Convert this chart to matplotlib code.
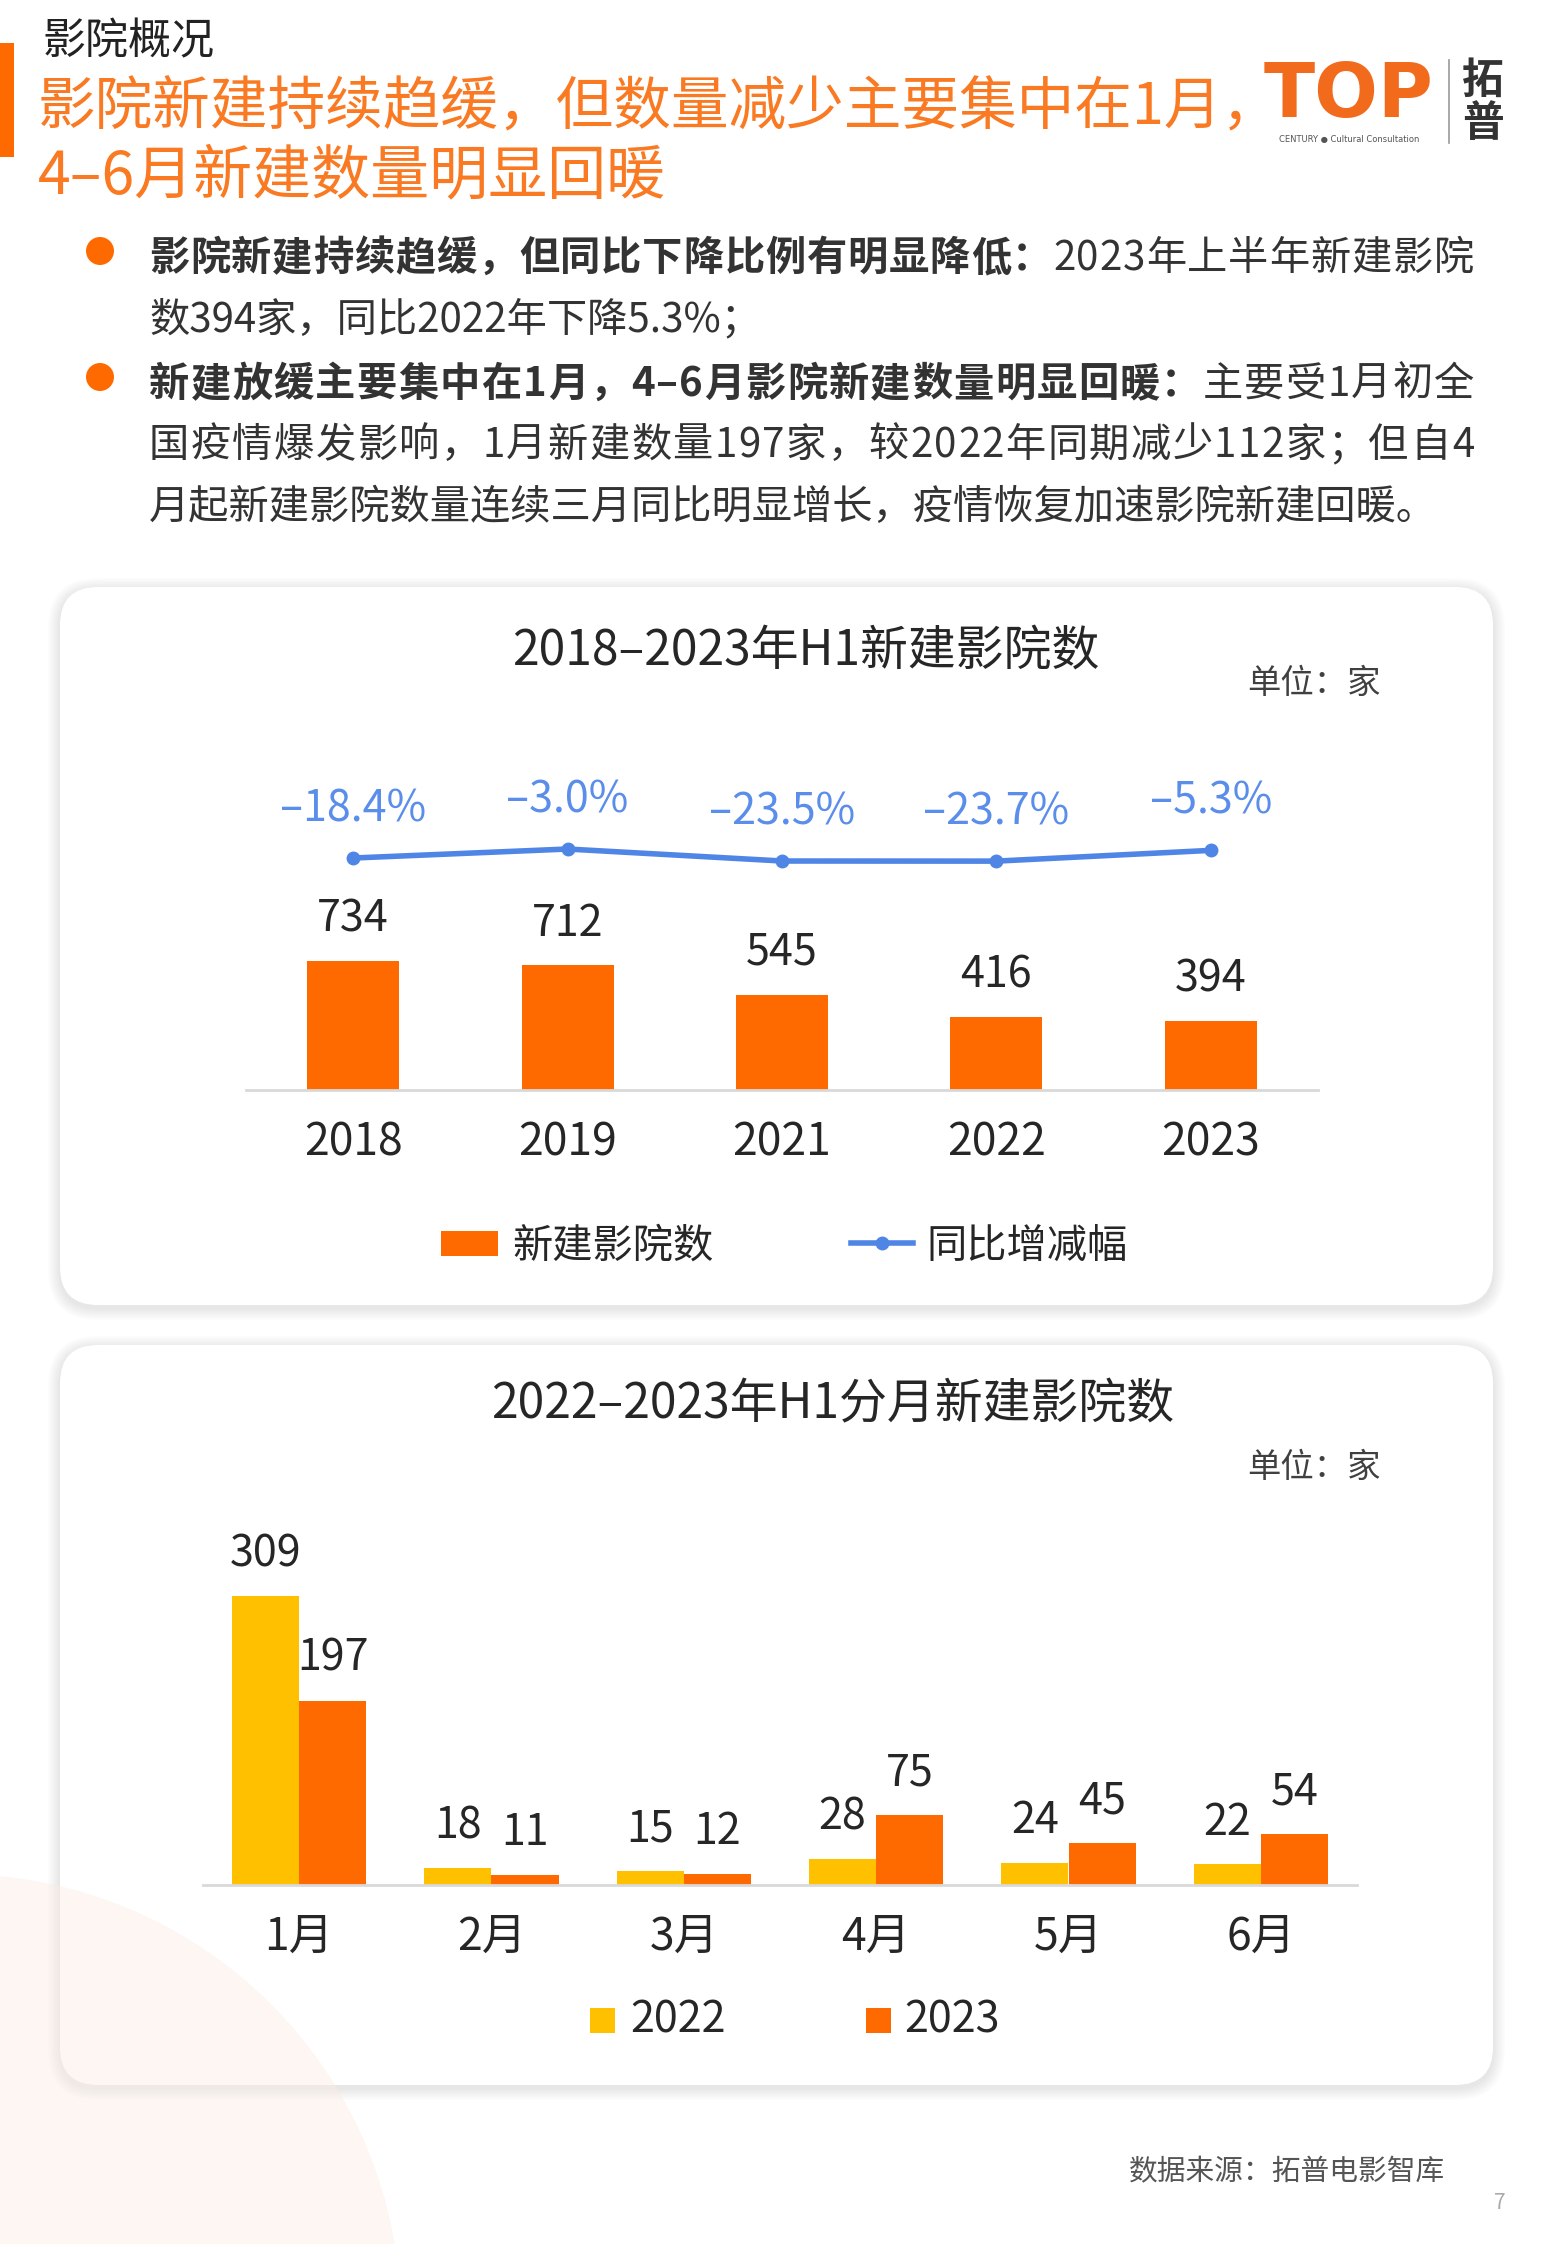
import matplotlib
matplotlib.use("Agg")
import matplotlib.pyplot as plt
from matplotlib.patches import FancyBboxPatch, Rectangle, Circle
from matplotlib.lines import Line2D

plt.rcParams['font.family'] = ['Noto Sans CJK SC', 'DejaVu Sans']

# data
years = ["2018", "2019", "2021", "2022", "2023"]
new_cinemas = [734, 712, 545, 416, 394]
yoy_pct = [-18.4, -3.0, -23.5, -23.7, -5.3]

months = ["1月", "2月", "3月", "4月", "5月", "6月"]
monthly_2022 = [309, 18, 15, 28, 24, 22]
monthly_2023 = [197, 11, 12, 75, 45, 54]

ORANGE = "#FF6A00"
TITLE_ORANGE = "#F97A22"
YELLOW = "#FFC000"
BLUE = "#4F86E6"
BLUE_TXT = "#5B8EEA"
DARK = "#262626"
NUM_FS = 31

W, H = 1554, 2244
fig = plt.figure(figsize=(W / 100, H / 100), dpi=100)
fig.patch.set_facecolor("white")

# background axes in pixel coordinates (y from top)
bg = fig.add_axes([0, 0, 1, 1], zorder=0)
bg.set_xlim(0, W)
bg.set_ylim(H, 0)
bg.axis("off")


def card(x0, y0, x1, y1):
    for i in range(8, 0, -1):
        bg.add_patch(FancyBboxPatch((x0 - i * 1.5, y0 - i * 1.5 + 3), x1 - x0 + i * 3, y1 - y0 + i * 3,
                                    boxstyle="round,pad=0,rounding_size=%d" % (38 + i * 1.5),
                                    fc="#000000", ec="none", alpha=0.012))
    bg.add_patch(FancyBboxPatch((x0, y0), x1 - x0, y1 - y0,
                                boxstyle="round,pad=0,rounding_size=38",
                                fc="white", ec="none"))


card(60, 587, 1493, 1305)
card(60, 1345, 1493, 2085)
bg.add_patch(Circle((-43, 2318), 444, fc="#FBEDE4", ec="none", alpha=0.45))

# header
bg.add_patch(Rectangle((0, 43), 14, 114, fc=ORANGE, ec="none"))
bg.text(43, 42, "影院概况", fontsize=31, color="#222222", va="center", ha="left")
bg.text(38, 108, "影院新建持续趋缓，但数量减少主要集中在1月，", fontsize=41.5, color=TITLE_ORANGE,
        va="center", ha="left")
bg.text(38, 177, "4–6月新建数量明显回暖", fontsize=42.5, color=TITLE_ORANGE, va="center", ha="left")

# logo
bg.text(1349, 96, "TOP", fontsize=54, fontweight="heavy", color="#F26B1D", ha="center", va="center",
        family="DejaVu Sans")
bg.text(1349, 139, "CENTURY ● Cultural Consultation", fontsize=6, color="#555555", ha="center",
        va="center", family="DejaVu Sans")
bg.plot([1449, 1449], [60, 143], color="#999999", lw=1.2)
bg.text(1483, 81, "拓", fontsize=30, fontweight="bold", color="#333333", ha="center", va="center")
bg.text(1483, 124, "普", fontsize=30, fontweight="bold", color="#333333", ha="center", va="center")

# bullets
bullets = [
    [[("影院新建持续趋缓，但同比下降比例有明显降低：", "bold"), ("2023年上半年新建影院", "normal")],
     [("数394家，同比2022年下降5.3%；", "normal")]],
    [[("新建放缓主要集中在1月，4–6月影院新建数量明显回暖：", "bold"), ("主要受1月初全", "normal")],
     [("国疫情爆发影响，1月新建数量197家，较2022年同期减少112家；但自4", "normal")],
     [("月起新建影院数量连续三月同比明显增长，疫情恢复加速影院新建回暖。", "normal")]],
]
base_y = [[270, 331], [396, 457, 519]]
dot_y = [251, 377]
renderer = fig.canvas.get_renderer()
inv = bg.transData.inverted()
X0, X1 = 149, 1474


def px_width(t):
    ext = t.get_window_extent(renderer)
    return inv.transform((ext.x1, 0))[0] - inv.transform((ext.x0, 0))[0]


for b, lines in enumerate(bullets):
    bg.add_patch(Circle((100, dot_y[b]), 14, fc=ORANGE, ec="none"))
    for li, segs in enumerate(lines):
        y = base_y[b][li]
        if li == len(lines) - 1:
            # last line of a paragraph: natural width
            x = X0
            for txt, wt in segs:
                t = bg.text(x, y, txt, fontsize=29, fontweight=wt, color="#333333", va="baseline",
                            ha="left")
                x += px_width(t)
            continue
        # justified line: spread characters over the full width
        chars = [(c, wt) for txt, wt in segs for c in txt]
        objs = [bg.text(0, y, c, fontsize=29, fontweight=wt, color="#333333", va="baseline",
                        ha="left") for c, wt in chars]
        widths = [px_width(o) for o in objs]
        gap = (X1 - X0 - sum(widths)) / (len(objs) - 1)
        x = X0
        for o, w in zip(objs, widths):
            o.set_x(x)
            x += w + gap

# chart 1
def frac(left, top, right, bottom):
    return [left / W, (H - bottom) / H, (right - left) / W, (bottom - top) / H]


bg.text(806, 651, "2018–2023年H1新建影院数", fontsize=34.5, color=DARK, ha="center", va="center")
bg.text(1381, 683, "单位：家", fontsize=24, color="#404040", ha="right", va="center")

ax1 = fig.add_axes(frac(246, 780, 1318, 1090), zorder=2)
ax1.patch.set_alpha(0)
xs = list(range(len(years)))
ax1.bar(xs, new_cinemas, width=0.43, color=ORANGE)
for x, v in zip(xs, new_cinemas):
    ax1.annotate(str(v), (x, v), xytext=(0, 30), textcoords="offset points", ha="center",
                 va="center", fontsize=NUM_FS, color=DARK)
ax1.set_xlim(-0.5, len(years) - 0.5)
ax1.set_ylim(0, 1770)
ax1.set_xticks(xs)
ax1.set_xticklabels(years, fontsize=32, color=DARK)
ax1.tick_params(axis="x", length=0, pad=21)
ax1.set_yticks([])
for s in ["top", "left", "right"]:
    ax1.spines[s].set_visible(False)
ax1.spines["bottom"].set_color("#D9D9D9")
ax1.spines["bottom"].set_linewidth(2)

ax1b = ax1.twinx()
ax1b.plot(xs, yoy_pct, color=BLUE, lw=4, marker="o", markersize=9, clip_on=False)
for x, v in zip(xs, yoy_pct):
    ax1b.annotate(("%.1f%%" % v).replace("-", "–"), (x, v), xytext=(0, 35), textcoords="offset points",
                  ha="center", va="center", fontsize=NUM_FS, color=BLUE_TXT)
ax1b.set_ylim(-415, 115)
ax1b.axis("off")

# legend chart 1
bg.add_patch(Rectangle((441, 1231), 57, 25, fc=ORANGE, ec="none"))
bg.text(512, 1246, "新建影院数", fontsize=29, color=DARK, va="center", ha="left")
bg.add_line(Line2D([851, 913], [1243, 1243], color=BLUE, lw=4))
bg.add_line(Line2D([882], [1243], color=BLUE, marker="o", markersize=9))
bg.text(926, 1246, "同比增减幅", fontsize=29, color=DARK, va="center", ha="left")

# chart 2
bg.text(833, 1405, "2022–2023年H1分月新建影院数", fontsize=34.5, color=DARK, ha="center", va="center")
bg.text(1381, 1467, "单位：家", fontsize=24, color="#404040", ha="right", va="center")

ax2 = fig.add_axes(frac(203, 1520, 1357, 1885), zorder=2)
ax2.patch.set_alpha(0)
mx = list(range(len(months)))
bw = 0.35
ax2.bar([x - bw / 2 for x in mx], monthly_2022, width=bw, color=YELLOW)
ax2.bar([x + bw / 2 for x in mx], monthly_2023, width=bw, color=ORANGE)
for x, v in zip(mx, monthly_2022):
    ax2.annotate(str(v), (x - bw / 2, v), xytext=(0, 30), textcoords="offset points", ha="center",
                 va="center", fontsize=NUM_FS, color=DARK)
for x, v in zip(mx, monthly_2023):
    ax2.annotate(str(v), (x + bw / 2, v), xytext=(0, 30), textcoords="offset points", ha="center",
                 va="center", fontsize=NUM_FS, color=DARK)
ax2.set_xlim(-0.5, len(months) - 0.5)
ax2.set_ylim(0, 390)
ax2.set_xticks(mx)
ax2.set_xticklabels(months, fontsize=32, color=DARK)
ax2.tick_params(axis="x", length=0, pad=21)
ax2.set_yticks([])
for s in ["top", "left", "right"]:
    ax2.spines[s].set_visible(False)
ax2.spines["bottom"].set_color("#D9D9D9")
ax2.spines["bottom"].set_linewidth(2)

bg.add_patch(Rectangle((590, 2008), 25, 25, fc=YELLOW, ec="none"))
bg.text(630, 2020, "2022", fontsize=31, color=DARK, va="center", ha="left")
bg.add_patch(Rectangle((866, 2008), 25, 25, fc=ORANGE, ec="none"))
bg.text(904, 2020, "2023", fontsize=31, color=DARK, va="center", ha="left")

# footer
bg.text(1445, 2172, "数据来源：拓普电影智库", fontsize=20.7, color="#555555", ha="right", va="center")
bg.text(1500, 2203, "7", fontsize=15, color="#AAAAAA", ha="center", va="center")

fig.savefig("out.png", dpi=100, facecolor="white")
